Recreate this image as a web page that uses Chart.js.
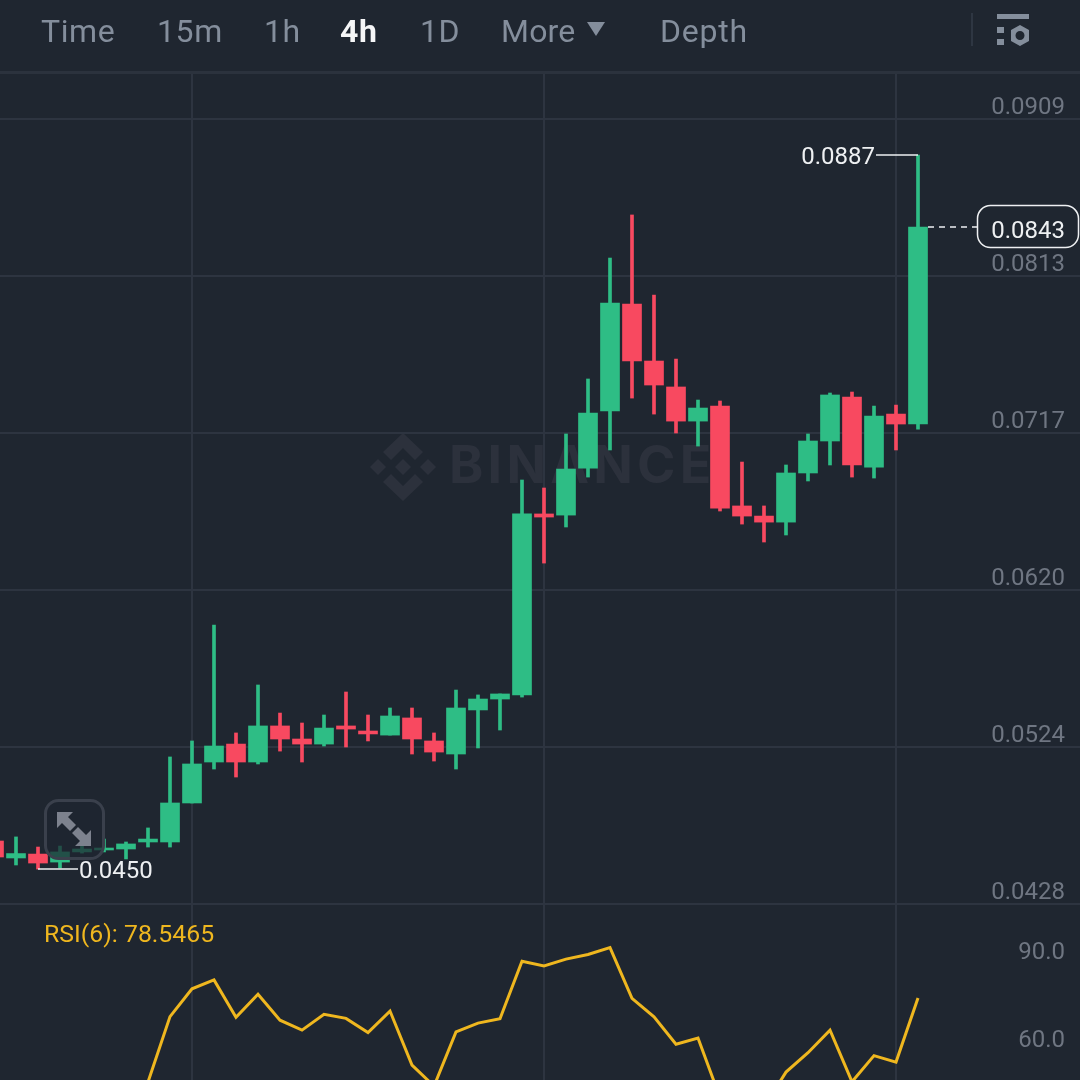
<!DOCTYPE html>
<html>
<head>
<meta charset="utf-8">
<title>4h chart</title>
<script src="https://cdn.jsdelivr.net/npm/chart.js@4/dist/chart.umd.min.js"></script>
<style>
html, body { margin: 0; padding: 0; background: #1f2630; }
#page { position: relative; width: 1080px; height: 1080px; overflow: hidden; background: #1f2630; font-family: Roboto, sans-serif; }
#page canvas { position: absolute; left: 0; }
#priceChart { top: 0; }
#rsiChart { top: 905px; }
.tab { position: absolute; top: 11px; font-size: 32px; line-height: 40px; color: #848e9c; letter-spacing: 0.6px; }
.tab.active { color: #f5f6f7; font-weight: 700; }
#headerLine { position: absolute; left: 0; top: 71px; width: 1080px; height: 3px; background: #2b323d; }
#headerSep { position: absolute; left: 971px; top: 13px; width: 2px; height: 33px; background: #2e3642; }
#wordmark { position: absolute; left: 449px; top: 433px; font-family: Inter, sans-serif; font-weight: 700; font-size: 52px; line-height: 64px; letter-spacing: 4.2px; color: #2c313c; }
svg { position: absolute; }
</style>
</head>
<body>
<div id="page">
  <svg style="left:368px;top:432px" width="70" height="70" viewBox="0 0 70 70">
    <g fill="#2c313c">
      <path d="M35 1 L55 20 L47 28 L35 16 L23 28 L15 20 Z"/>
      <path d="M35 69 L55 50 L47 42 L35 54 L23 42 L15 50 Z"/>
      <path d="M35 27 L43 35 L35 43 L27 35 Z"/>
      <path d="M10 27 L18 35 L10 43 L2 35 Z"/>
      <path d="M60 27 L68 35 L60 43 L52 35 Z"/>
    </g>
  </svg>
  <div id="wordmark">BINANCE</div>
  <canvas id="priceChart" width="1080" height="906"></canvas>
  <canvas id="rsiChart" width="1080" height="175"></canvas>
  <div class="tab" style="left:41px">Time</div>
  <div class="tab" style="left:157px">15m</div>
  <div class="tab" style="left:264px">1h</div>
  <div class="tab active" style="left:340px">4h</div>
  <div class="tab" style="left:420px">1D</div>
  <div class="tab" style="left:501px; letter-spacing: 0.2px">More</div>
  <div class="tab" style="left:660px; letter-spacing: 0.8px">Depth</div>
  <svg style="left:586px;top:21px" width="20" height="16" viewBox="0 0 20 16"><path d="M1 1 H19 L10 15 Z" fill="#848e9c"/></svg>
  <div id="headerSep"></div>
  <svg style="left:996px;top:13px" width="34" height="34" viewBox="0 0 34 34">
    <g fill="#848e9c">
      <rect x="1" y="1" width="32" height="5"/>
      <rect x="1" y="14" width="7" height="6"/>
      <rect x="1" y="26" width="7" height="6"/>
      <path fill-rule="evenodd" d="M24 12 L33 17 V28 L24 33 L15 28 V17 Z M24 18 A4.5 4.5 0 1 0 24 27 A4.5 4.5 0 1 0 24 18 Z"/>
    </g>
  </svg>
  <div id="headerLine"></div>
  <svg style="left:44px;top:799px" width="61" height="61" viewBox="0 0 61 61">
    <rect x="1.5" y="1.5" width="58" height="58" rx="13" fill="#1f2630" fill-opacity="0.72" stroke="#3a404c" stroke-width="3"/>
    <g fill="#7d828e">
      <path d="M13 13 H29 L24 18 L32 26 L26 32 L18 24 L13 29 Z"/>
      <path d="M47 47 H31 L36 42 L28 34 L34 28 L42 36 L47 31 Z"/>
    </g>
  </svg>
</div>
<script>
// candles, oldest first, 4h
var opens = [0.04666, 0.04562, 0.04586, 0.04537, 0.04599, 0.04611, 0.04617, 0.0466, 0.0466, 0.04899, 0.0515, 0.0526, 0.0515, 0.05371, 0.05291, 0.0526, 0.05371, 0.0534, 0.05315, 0.0542, 0.05279, 0.05199, 0.05469, 0.05536, 0.05561, 0.0667, 0.06663, 0.06951, 0.07301, 0.07956, 0.07607, 0.07448, 0.07239, 0.07331, 0.06719, 0.06657, 0.0662, 0.06921, 0.07117, 0.07386, 0.06957, 0.07282, 0.07221];
var highs = [0.04666, 0.04691, 0.04629, 0.04635, 0.04641, 0.04678, 0.0466, 0.04746, 0.05181, 0.05279, 0.05989, 0.05328, 0.05622, 0.0545, 0.05389, 0.05438, 0.05579, 0.05438, 0.05481, 0.05481, 0.05328, 0.05591, 0.05561, 0.05567, 0.06878, 0.06829, 0.0716, 0.07497, 0.08238, 0.08502, 0.08011, 0.07619, 0.07368, 0.07362, 0.06988, 0.06719, 0.0697, 0.0716, 0.07411, 0.07417, 0.07331, 0.07337, 0.08869];
var lows = [0.04568, 0.04519, 0.04494, 0.04501, 0.04592, 0.04599, 0.04556, 0.04629, 0.04629, 0.04899, 0.05107, 0.05058, 0.05138, 0.05217, 0.0515, 0.05248, 0.05242, 0.05279, 0.05315, 0.05199, 0.05156, 0.05107, 0.05236, 0.05346, 0.05548, 0.06369, 0.0659, 0.06896, 0.07062, 0.0738, 0.07282, 0.07166, 0.07086, 0.06688, 0.06608, 0.06498, 0.06541, 0.06872, 0.0697, 0.06896, 0.0689, 0.07062, 0.0719];
var closes = [0.04568, 0.04589, 0.04531, 0.04599, 0.04617, 0.04623, 0.04648, 0.04678, 0.04899, 0.05138, 0.05248, 0.0515, 0.05371, 0.05291, 0.0526, 0.05358, 0.05352, 0.05322, 0.05432, 0.05291, 0.05211, 0.05481, 0.05536, 0.05567, 0.0667, 0.06651, 0.06945, 0.07288, 0.07962, 0.07607, 0.0746, 0.07239, 0.07319, 0.06706, 0.06657, 0.0662, 0.06921, 0.07117, 0.07399, 0.0697, 0.0727, 0.07221, 0.08428];
var rsiValues = [46, 44, 41, 43, 45, 42, 47, 49.9, 72.2, 81.7, 84.7, 72, 79.8, 71, 67.6, 73, 71.6, 66.8, 74.1, 55.7, 48.5, 67, 70, 71.5, 91.1, 89.5, 91.8, 93.4, 95.7, 78.4, 72.1, 62.8, 64.9, 44.6, 43.8, 41.4, 53.3, 59.9, 67.6, 50, 58.9, 56.7, 78.5465];

var priceTicks = [0.0428, 0.05242, 0.06204, 0.07166, 0.08128, 0.0909];
var rsiTicks = [90, 60];
var timeTicks = [9, 25, 41];

var lastPrice = 0.0843;
var highLabel = 0.0887;
var lowLabel = 0.0450;
var rsiLabel = 'RSI(6): 78.5465';

var GREEN = '#2ebd85';
var RED = '#f84960';
var GRID = '#2d3440';
var TICK_TEXT = '#6f7682';
var WHITE = '#eef0f2';
var YELLOW = '#efb71f';
var FONT = 'Roboto, sans-serif';

var xMin = 0.2727;
var xMax = 49.3636;

var candleColors = closes.map((c, i) => c >= opens[i] ? GREEN : RED);
var wicks = highs.map((h, i) => ({ x: i, y: [lows[i], h] }));
var bodies = opens.map((o, i) => ({ x: i, y: [o, closes[i]] }));

function xAxis() {
    return {
        type: 'linear',
        min: xMin,
        max: xMax,
        offset: false,
        afterBuildTicks: axis => { axis.ticks = timeTicks.map(v => ({ value: v })); },
        ticks: { display: false },
        border: { display: false },
        grid: { color: GRID, lineWidth: 2, drawTicks: false, offset: false }
    };
}

// labels sit inside the plot, so the axis itself takes no room
function noAxisRoom(axis) {
    axis.width = 0;
    axis.paddingTop = 0;
    axis.paddingBottom = 0;
}

// high / low / last price labels, placed from the scales
var priceLabels = {
    id: 'priceLabels',
    afterDatasetsDraw(chart) {
        var c = chart.ctx;
        var x = chart.scales.x;
        var y = chart.scales.y;
        var last = opens.length - 1;
        var lowIndex = lows.indexOf(Math.min.apply(null, lows));
        c.save();
        c.font = '24px ' + FONT;
        c.textBaseline = 'middle';
        c.strokeStyle = WHITE;
        c.fillStyle = WHITE;
        c.lineWidth = 1.5;

        // highest
        var hx = x.getPixelForValue(last);
        var hy = y.getPixelForValue(Math.max.apply(null, highs));
        c.beginPath();
        c.moveTo(hx, hy);
        c.lineTo(hx - 42, hy);
        c.stroke();
        c.textAlign = 'right';
        c.fillText(highLabel.toFixed(4), hx - 43, hy + 3);

        // lowest
        var lx = x.getPixelForValue(lowIndex);
        var ly = y.getPixelForValue(Math.min.apply(null, lows));
        c.beginPath();
        c.moveTo(lx, ly);
        c.lineTo(lx + 40, ly);
        c.stroke();
        c.textAlign = 'left';
        c.fillText(lowLabel.toFixed(4), lx + 41, ly + 3);

        // last price
        var py = y.getPixelForValue(closes[last]);
        c.setLineDash([6, 5]);
        c.beginPath();
        c.moveTo(hx + 10, py);
        c.lineTo(977, py);
        c.stroke();
        c.setLineDash([]);
        c.fillStyle = '#1f2630';
        c.beginPath();
        c.roundRect(977.5, py - 21.5, 101, 42, 13);
        c.fill();
        c.stroke();
        c.fillStyle = WHITE;
        c.textAlign = 'right';
        c.fillText(lastPrice.toFixed(4), 1065, py + 5);
        c.restore();
    }
};

var rsiCaption = {
    id: 'rsiCaption',
    afterDraw(chart) {
        var c = chart.ctx;
        c.save();
        c.font = '24.8px ' + FONT;
        c.fillStyle = YELLOW;
        c.textAlign = 'left';
        c.textBaseline = 'middle';
        c.fillText(rsiLabel, 44, 31);
        c.restore();
    }
};

new Chart(document.getElementById('priceChart').getContext('2d'), {
    type: 'bar',
    data: {
        datasets: [{
            data: wicks,
            backgroundColor: candleColors,
            barThickness: 3,
            grouped: false,
            order: 2
        }, {
            data: bodies,
            backgroundColor: candleColors,
            barThickness: 19,
            grouped: false,
            order: 1
        }]
    },
    options: {
        responsive: false,
        animation: false,
        devicePixelRatio: 1,
        layout: { padding: { top: 72, bottom: 2 } },
        plugins: { legend: { display: false }, tooltip: { enabled: false } },
        scales: {
            x: xAxis(),
            y: {
                position: 'right',
                min: 0.0428,
                max: 0.09378,
                afterBuildTicks: axis => { axis.ticks = priceTicks.map(v => ({ value: v })); },
                afterFit: noAxisRoom,
                border: { display: false },
                grid: { color: GRID, lineWidth: 2, drawTicks: false },
                ticks: {
                    mirror: true,
                    padding: -15,
                    autoSkip: false,
                    color: TICK_TEXT,
                    font: { family: FONT, size: 24, lineHeight: 0.92 },
                    // empty second line lifts the label above its grid line
                    callback: v => [v.toFixed(4), '']
                }
            }
        }
    },
    plugins: [priceLabels]
});

new Chart(document.getElementById('rsiChart').getContext('2d'), {
    type: 'line',
    data: {
        datasets: [{
            data: rsiValues.map((v, i) => ({ x: i, y: v })),
            borderColor: YELLOW,
            borderWidth: 3,
            pointRadius: 0,
            tension: 0
        }]
    },
    options: {
        responsive: false,
        animation: false,
        devicePixelRatio: 1,
        layout: { padding: 0 },
        plugins: { legend: { display: false }, tooltip: { enabled: false } },
        scales: {
            x: xAxis(),
            y: {
                position: 'right',
                min: 50.6,
                max: 110.25,
                afterBuildTicks: axis => { axis.ticks = rsiTicks.map(v => ({ value: v })); },
                afterFit: noAxisRoom,
                border: { display: false },
                grid: { display: false, drawTicks: false },
                ticks: {
                    mirror: true,
                    padding: -15,
                    autoSkip: false,
                    color: TICK_TEXT,
                    font: { family: FONT, size: 24, lineHeight: 0.92 },
                    callback: v => [v.toFixed(1), '']
                }
            }
        }
    },
    plugins: [rsiCaption]
});
</script>
</body>
</html>
